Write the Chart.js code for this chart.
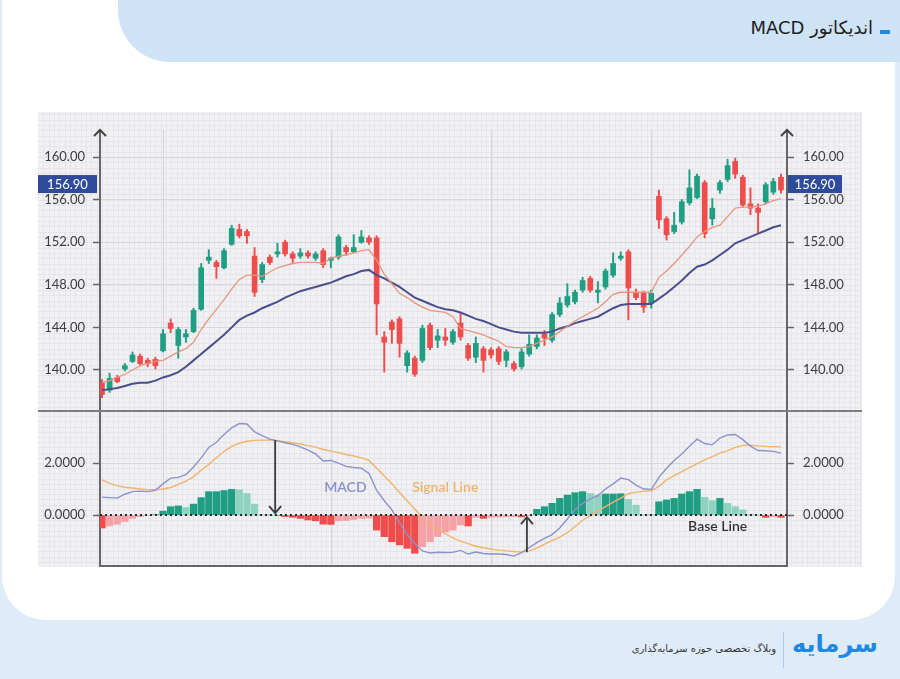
<!DOCTYPE html>
<html lang="fa">
<head>
<meta charset="utf-8">
<script src="https://cdn.jsdelivr.net/npm/chart.js@4.4.1/dist/chart.umd.min.js"></script>
<style>
  html, body { margin: 0; padding: 0; }
  body { width: 900px; height: 679px; background: #deebf8; position: relative; overflow: hidden; font-family: Lato, "DejaVu Sans", sans-serif; }
  .card { position: absolute; left: 2px; top: 0; width: 893px; height: 620px; background: #fff; border-radius: 0 0 44px 44px; }
  .banner { position: absolute; left: 118px; top: 0; width: 782px; height: 62px; background: #cfe3f6; border-bottom-left-radius: 52px; }
  .title { position: absolute; right: 27px; top: 17px; direction: rtl; font-family: "DejaVu Sans", sans-serif; font-size: 18px; color: #1d1d1d; white-space: nowrap; }
  .dash { position: absolute; left: 880px; top: 30px; width: 10px; height: 4px; background: #1e88e5; }
  #priceChart { position: absolute; left: 38px; top: 112px; }
  #macdChart { position: absolute; left: 38px; top: 410px; }
  .footnote { position: absolute; right: 124px; top: 643px; direction: rtl; font-family: "DejaVu Sans", sans-serif; font-size: 10px; color: #333; white-space: nowrap; }
  .sep { position: absolute; left: 783px; top: 632px; width: 1px; height: 36px; background: #a9cbe9; }
  .logo { position: absolute; left: 792px; top: 630px; direction: rtl; font-family: "DejaVu Sans", sans-serif; font-size: 24px; font-weight: bold; color: #1e88e5; white-space: nowrap; }
</style>
</head>
<body>
<div class="card"></div>
<div class="banner"></div>
<div class="title">اندیکاتور MACD</div>
<div class="dash"></div>
<canvas id="priceChart" width="824" height="298"></canvas>
<canvas id="macdChart" width="824" height="157"></canvas>
<div class="sep"></div>
<div class="logo">سرمایه</div>
<div class="footnote">وبلاگ تخصصی حوزه سرمایه‌گذاری</div>
<script>
// candles, one per trading day
const opens  = [138.8,138.1,139.3,140.1,140.8,141.3,140.9,141.0,141.8,144.4,142.3,143.1,143.6,145.7,150.3,150.1,149.6,151.8,153.2,153.0,
                150.7,148.5,150.6,150.9,152.0,150.9,150.7,151.0,150.5,151.2,150.3,150.6,151.5,151.1,152.0,152.4,152.4,143.1,144.5,144.8,
                140.4,141.1,140.9,144.2,142.8,143.1,142.6,144.4,142.3,141.2,142.0,141.9,142.0,140.9,140.6,140.3,141.5,142.2,143.4,142.8,
                145.2,146.1,146.4,147.5,148.6,147.3,147.8,148.9,150.5,151.1,147.3,147.2,146.3,156.3,154.2,153.0,153.9,155.7,156.2,157.6,
                154.2,156.9,157.9,159.6,158.1,155.6,155.2,155.8,156.7,158.1];
const highs  = [139.1,139.7,139.5,140.6,141.7,141.5,141.1,141.2,143.8,144.8,144.0,143.8,145.8,150.0,151.3,150.3,151.4,153.6,153.7,153.2,
                151.5,150.1,150.8,151.9,152.2,151.1,151.4,151.2,151.1,151.4,150.6,152.7,151.7,152.7,153.1,152.6,152.6,143.6,144.7,145.0,
                141.8,141.3,144.2,144.4,143.8,143.9,143.8,145.4,142.5,143.1,142.2,142.1,142.2,141.9,140.8,142.0,143.3,143.3,143.7,145.4,
                146.8,148.1,147.5,148.7,148.8,148.3,149.5,151.0,151.1,151.3,147.6,147.4,147.5,156.9,154.4,154.8,156.0,158.8,158.4,157.8,
                156.1,157.8,159.8,159.9,158.3,157.1,155.6,157.6,158.0,158.4];
const lows   = [137.4,137.9,138.8,139.9,140.7,140.4,140.3,140.1,141.7,143.5,141.1,142.6,143.5,145.6,150.0,148.6,149.5,151.7,152.4,151.9,
                146.9,148.2,149.9,150.6,150.7,150.1,150.5,150.5,150.3,149.6,149.6,150.4,150.8,151.0,151.9,151.8,143.3,139.8,142.5,141.2,
                139.8,139.4,140.7,141.9,142.1,142.3,142.4,142.8,140.9,140.7,139.8,141.1,140.5,140.3,139.9,140.1,141.3,142.0,142.3,142.6,
                145.0,145.9,146.2,147.3,147.3,146.3,147.6,148.7,150.3,144.7,146.6,145.4,145.8,153.3,152.2,152.8,153.7,155.5,156.1,152.4,
                153.6,156.6,157.7,158.0,155.3,154.6,152.9,155.6,156.5,156.6];
const closes = [137.7,139.2,138.9,140.4,141.4,140.6,140.6,140.4,143.4,143.9,143.8,143.4,145.6,149.6,150.6,149.7,151.2,153.3,152.6,152.6,
                147.3,149.9,150.1,151.1,150.9,150.5,151.0,150.7,150.9,149.9,150.5,152.5,151.1,151.5,152.5,152.0,146.2,142.6,143.8,142.5,
                141.6,139.6,143.9,142.1,143.2,142.8,143.6,143.1,141.1,142.5,140.9,141.4,140.8,141.7,140.1,141.7,142.4,143.0,143.0,145.2,
                146.3,146.9,147.3,148.4,147.5,147.5,149.3,150.0,150.7,147.7,146.8,145.9,147.2,154.1,152.7,153.6,155.8,157.1,158.2,152.8,
                155.2,157.6,159.2,158.4,155.5,155.2,154.8,157.4,157.7,156.9];
// moving averages drawn over the candles
const emaFast = [138.8,139.0,139.3,139.6,140.0,140.4,140.6,140.8,140.9,141.3,141.7,142.0,142.6,143.8,144.8,145.7,146.6,147.6,148.5,148.9,
                 148.9,148.8,149.2,149.6,149.8,150.0,150.1,150.1,150.1,150.0,150.5,150.7,150.8,151.0,151.2,151.3,150.3,149.0,148.1,147.2,
                 146.8,146.3,145.9,145.6,145.5,145.4,145.0,143.9,143.7,143.5,143.3,143.0,142.7,142.2,142.1,142.1,142.2,142.5,142.8,143.1,
                 143.6,144.1,144.6,145.0,145.4,145.8,146.4,147.1,147.3,147.3,147.3,147.3,147.3,148.7,149.3,150.0,150.8,151.6,152.5,153.0,
                 153.4,153.6,154.4,155.2,155.3,155.3,155.4,155.6,155.9,156.1];
const emaSlow = [138.1,138.2,138.3,138.5,138.7,138.8,138.8,139.0,139.3,139.5,139.8,140.3,140.9,141.5,142.1,142.7,143.3,144.0,144.7,145.1,
                 145.4,145.8,146.1,146.4,146.8,147.1,147.4,147.6,147.8,148.0,148.2,148.5,148.8,149.0,149.3,149.4,148.9,148.6,148.2,147.8,
                 147.3,146.8,146.5,146.2,145.9,145.7,145.6,145.4,145.1,144.8,144.6,144.3,144.0,143.8,143.6,143.5,143.5,143.5,143.5,143.6,
                 143.9,144.1,144.4,144.6,144.8,145.0,145.4,145.8,146.1,146.2,146.2,146.2,146.2,146.7,147.2,147.8,148.4,149.1,149.7,149.9,
                 150.3,150.8,151.3,151.9,152.2,152.5,152.8,153.1,153.4,153.6];
// MACD panel
const macdLine = [0.69,0.67,0.65,0.80,0.90,0.92,0.90,0.95,1.20,1.42,1.45,1.55,1.85,2.20,2.60,2.80,3.10,3.35,3.52,3.50,
                  3.20,3.05,2.92,2.85,2.78,2.72,2.62,2.50,2.35,2.08,2.10,2.00,1.87,1.83,1.80,1.60,0.95,0.55,0.20,-0.30,
                  -0.75,-1.10,-1.38,-1.46,-1.43,-1.44,-1.43,-1.36,-1.50,-1.42,-1.48,-1.50,-1.50,-1.52,-1.58,-1.45,-1.25,-1.06,-0.90,-0.75,
                  -0.50,-0.15,0.20,0.45,0.62,0.75,1.00,1.20,1.42,1.36,1.15,1.00,0.98,1.45,1.80,2.10,2.35,2.65,2.92,2.75,
                  2.70,2.96,3.08,3.10,2.90,2.65,2.48,2.47,2.45,2.38];
const signalLine = [1.35,1.22,1.12,1.07,1.04,1.00,0.97,0.97,1.00,1.06,1.18,1.30,1.48,1.72,1.95,2.20,2.45,2.64,2.76,2.84,
                    2.87,2.88,2.88,2.86,2.82,2.78,2.73,2.67,2.61,2.52,2.46,2.40,2.33,2.27,2.20,2.10,1.80,1.50,1.20,0.87,
                    0.55,0.23,-0.10,-0.40,-0.57,-0.72,-0.88,-1.00,-1.10,-1.20,-1.26,-1.31,-1.35,-1.38,-1.40,-1.42,-1.38,-1.27,-1.12,-0.98,
                    -0.85,-0.68,-0.45,-0.20,-0.02,0.15,0.32,0.50,0.65,0.82,0.88,0.91,0.93,1.10,1.35,1.52,1.67,1.82,1.98,2.12,
                    2.25,2.38,2.48,2.60,2.68,2.69,2.66,2.64,2.63,2.62];
const histogram = [-0.50,-0.42,-0.35,-0.25,-0.13,-0.06,-0.02,0.02,0.15,0.32,0.35,0.29,0.42,0.67,0.90,0.90,0.94,0.99,0.97,0.83,
                   0.42,0.02,0.01,-0.02,-0.06,-0.09,-0.13,-0.19,-0.22,-0.35,-0.36,-0.22,-0.21,-0.17,-0.13,-0.12,-0.58,-0.83,-1.03,-1.15,
                   -1.28,-1.47,-1.22,-1.03,-0.83,-0.66,-0.58,-0.38,-0.42,-0.09,-0.13,-0.09,-0.08,-0.07,-0.06,-0.07,-0.02,0.22,0.32,0.45,
                   0.64,0.77,0.86,0.90,0.83,0.77,0.81,0.81,0.82,0.60,0.38,0.02,0.01,0.51,0.58,0.64,0.81,0.90,0.99,0.68,
                   0.55,0.64,0.45,0.32,0.20,0.01,0.00,-0.09,-0.06,-0.09];
const priceTicks = [140, 144, 148, 152, 156, 160];
const macdTicks = [0, 2];
const gridDays = [8, 30, 51, 72];
const crossings = [{ day: 22.7, from: 2.88, to: 0 }, { day: 55.7, from: -1.43, to: 0 }];
const notes = [
  { text: "MACD", day: 31.9, value: 1.05, color: "#8b90c9" },
  { text: "Signal Line", day: 45.0, value: 1.05, color: "#f2b26a" },
  { text: "Base Line", day: 80.7, value: -0.44, color: "#333" }
];

const UP = "#1f9e84", DOWN = "#ef4c4c", UP_FADE = "#8fd2c0", DOWN_FADE = "#f4a2a5";
const AXIS = "#666";
const FONT = { family: "Lato, 'Open Sans', sans-serif", size: 13 };
const last = closes[closes.length - 1];
const xRange = { type: "linear", min: -0.26, max: 89.79, offset: false, display: false };

const backdrop = {
  id: "backdrop",
  beforeDraw(chart, args, o) {
    const { ctx, width, height } = chart;
    const ys = chart.scales[o.y], xs = chart.scales.x;
    ctx.save();
    ctx.fillStyle = "#f1f1f4";
    ctx.fillRect(0, 0, width, height);
    ctx.strokeStyle = "#e5e5eb";
    ctx.lineWidth = 1;
    ctx.beginPath();
    const v0 = ys.getValueForPixel(height), v1 = ys.getValueForPixel(0);
    for (let k = Math.ceil(v0 / o.step); k * o.step <= v1; k++) {
      const y = Math.round(ys.getPixelForValue(k * o.step)) + 0.5;
      ctx.moveTo(0, y); ctx.lineTo(width, y);
    }
    const d0 = xs.getValueForPixel(0), d1 = xs.getValueForPixel(width);
    for (let k = Math.ceil(d0 / 0.7); k * 0.7 <= d1; k++) {
      const x = Math.round(xs.getPixelForValue(k * 0.7)) + 0.5;
      ctx.moveTo(x, 0); ctx.lineTo(x, height);
    }
    ctx.stroke();
    ctx.strokeStyle = "#d4d4dc";
    ctx.beginPath();
    gridDays.forEach(d => {
      const x = Math.round(xs.getPixelForValue(d)) + 0.5;
      ctx.moveTo(x, o.gridTop); ctx.lineTo(x, height);
    });
    ctx.stroke();
    ctx.restore();
  }
};

const yAxis = (side, ticks, min, max, fmt, grid) => ({
  position: side,
  min, max,
  afterFit: s => {
    s.width = side === "left" ? 62 : 75;
    s.paddingTop = 0;
    s.paddingBottom = 0;
  },
  afterBuildTicks: s => { s.ticks = ticks.map(value => ({ value })); },
  ticks: { callback: v => v.toFixed(fmt), color: "#3d3d3d", font: FONT, padding: side === "left" ? 8 : 9 },
  grid: { drawOnChartArea: grid, color: "#d6d6de", tickColor: AXIS, tickLength: 7, tickWidth: 1.5 },
  border: { display: true, color: AXIS, width: 2 }
});

const axisArrows = {
  id: "axisArrows",
  afterDraw(chart) {
    const { ctx, chartArea: a } = chart;
    ctx.save();
    ctx.strokeStyle = "#444";
    ctx.lineWidth = 2;
    [a.left, a.right].forEach(x => {
      ctx.beginPath();
      ctx.moveTo(x - 6, a.top + 6); ctx.lineTo(x, a.top); ctx.lineTo(x + 6, a.top + 6);
      ctx.stroke();
    });
    // last price tag on both sides
    const y = chart.scales.y.getPixelForValue(last) - 6;
    ctx.font = "13px Lato, sans-serif";
    ctx.textAlign = "center";
    ctx.textBaseline = "middle";
    [[0, a.left - 3], [a.right + 1, a.right + 55]].forEach(([x0, x1]) => {
      ctx.fillStyle = "#2f4c9c";
      ctx.fillRect(x0, y - 9, x1 - x0, 18);
      ctx.fillStyle = "#fff";
      ctx.fillText(last.toFixed(2), (x0 + x1) / 2, y + 0.5);
    });
    ctx.restore();
  }
};

const days = closes.map((c, i) => i);
const candleColor = days.map(i => closes[i] >= opens[i] ? UP : DOWN);

new Chart(document.getElementById("priceChart"), {
  type: "bar",
  data: {
    datasets: [
      { type: "line", yAxisID: "y", data: days.map(i => ({ x: i, y: emaFast[i] })), borderColor: "#e9957c", borderWidth: 1.3, pointRadius: 0, order: 0 },
      { type: "line", yAxisID: "y", data: days.map(i => ({ x: i, y: emaSlow[i] })), borderColor: "#4a4f8c", borderWidth: 2, pointRadius: 0, order: 0 },
      { yAxisID: "y", data: days.map(i => ({ x: i, y: [lows[i], highs[i]] })), backgroundColor: candleColor, barThickness: 1.3, grouped: false, order: 2 },
      { yAxisID: "y", data: days.map(i => ({ x: i, y: [opens[i], closes[i]] })), backgroundColor: candleColor, barThickness: 5, minBarLength: 1.5, grouped: false, order: 1 }
    ]
  },
  options: {
    responsive: false,
    animation: false,
    layout: { padding: { top: 18, bottom: 0, left: 0, right: 0 } },
    plugins: { legend: { display: false }, tooltip: { enabled: false }, backdrop: { y: "y", step: 0.5, gridTop: 18 } },
    scales: {
      x: xRange,
      y: yAxis("left", priceTicks, 136.24, 162.54, 2, true),
      yR: yAxis("right", priceTicks, 136.24, 162.54, 2, false)
    }
  },
  plugins: [backdrop, axisArrows]
});

const histColor = histogram.map((h, i) => {
  const prev = i ? histogram[i - 1] : h;
  if (h >= 0) return h >= prev ? UP : UP_FADE;
  return h <= prev ? DOWN : DOWN_FADE;
});

const macdMarks = {
  id: "macdMarks",
  afterDatasetsDraw(chart) {
    const { ctx, chartArea: a, width, scales: { x, m } } = chart;
    ctx.save();
    // panel separator and bottom axis
    ctx.fillStyle = "#7d7d7d";
    ctx.fillRect(0, 0, width, 2);
    ctx.fillStyle = AXIS;
    ctx.fillRect(a.left - 1, a.bottom - 1, a.right - a.left + 2, 2);
    // base line
    const y0 = m.getPixelForValue(0);
    ctx.strokeStyle = "#2b2b2b";
    ctx.lineWidth = 2;
    ctx.setLineDash([2, 3]);
    ctx.beginPath(); ctx.moveTo(a.left, y0); ctx.lineTo(a.right, y0); ctx.stroke();
    ctx.setLineDash([]);
    // crossover arrows
    ctx.strokeStyle = "#3a3a3a";
    ctx.lineWidth = 1.8;
    crossings.forEach(c => {
      const px = x.getPixelForValue(c.day), ya = m.getPixelForValue(c.from), yb = m.getPixelForValue(c.to) + (c.from > c.to ? -2 : 2);
      const dir = c.from > c.to ? -1 : 1;
      ctx.beginPath(); ctx.moveTo(px, ya); ctx.lineTo(px, yb); ctx.stroke();
      ctx.beginPath();
      ctx.moveTo(px - 6, yb + dir * 7); ctx.lineTo(px, yb); ctx.lineTo(px + 6, yb + dir * 7);
      ctx.stroke();
    });
    ctx.font = "600 14px Lato, sans-serif";
    ctx.textAlign = "center";
    ctx.textBaseline = "middle";
    notes.forEach(n => {
      ctx.fillStyle = n.color;
      ctx.fillText(n.text, x.getPixelForValue(n.day), m.getPixelForValue(n.value));
    });
    ctx.restore();
  }
};

new Chart(document.getElementById("macdChart"), {
  type: "bar",
  data: {
    datasets: [
      { type: "line", yAxisID: "m", data: days.map(i => ({ x: i, y: macdLine[i] })), borderColor: "#8d92cc", borderWidth: 1.4, pointRadius: 0, order: 0 },
      { type: "line", yAxisID: "m", data: days.map(i => ({ x: i, y: signalLine[i] })), borderColor: "#f2b26a", borderWidth: 1.4, pointRadius: 0, order: 0 },
      { yAxisID: "m", data: days.map(i => ({ x: i, y: histogram[i] })), backgroundColor: histColor, barThickness: 6.6, grouped: false, order: 1 }
    ]
  },
  options: {
    responsive: false,
    animation: false,
    layout: { padding: { top: 0, bottom: 1, left: 0, right: 0 } },
    plugins: { legend: { display: false }, tooltip: { enabled: false }, backdrop: { y: "m", step: 0.2, gridTop: 0 } },
    scales: {
      x: xRange,
      m: yAxis("left", macdTicks, -1.96, 4.04, 4, true),
      mR: yAxis("right", macdTicks, -1.96, 4.04, 4, false)
    }
  },
  plugins: [backdrop, macdMarks]
});
</script>
</body>
</html>
